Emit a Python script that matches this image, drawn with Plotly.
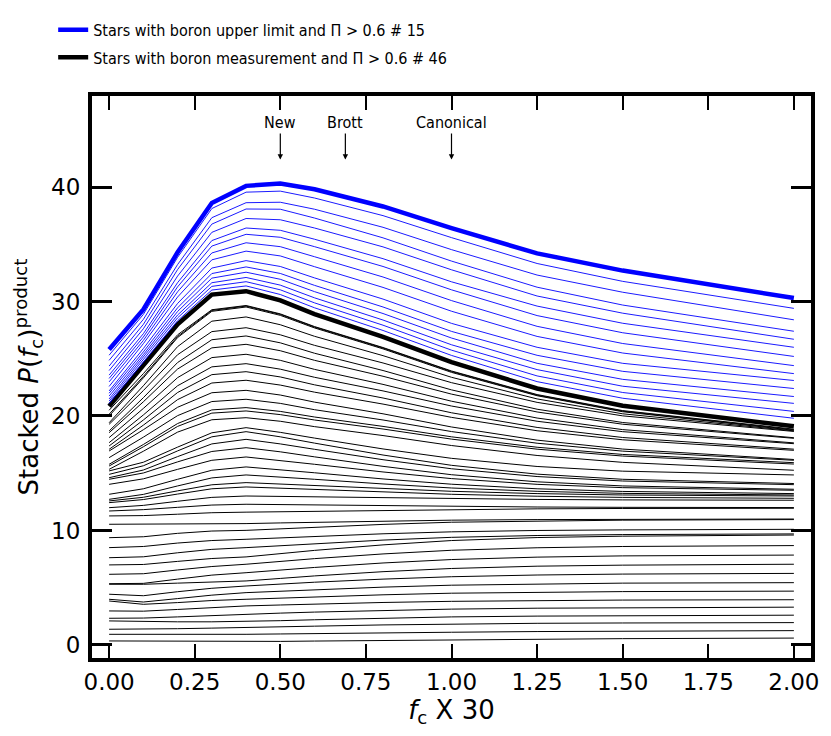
import plotly.graph_objects as go

# f_c X 30 grid
fc = [0.0, 0.1, 0.2, 0.3, 0.4, 0.5, 0.6, 0.8, 1.0, 1.25, 1.5, 2.0]

# stacked P(f_c)^product, stars with boron measurement (bottom -> top), last = total
black_levels = [
    [0.35, 0.33, 0.31, 0.30, 0.29, 0.31, 0.34, 0.40, 0.45, 0.51, 0.55, 0.60],
    [0.93, 0.92, 0.92, 0.93, 0.93, 0.96, 1.00, 1.06, 1.11, 1.17, 1.21, 1.25],
    [1.37, 1.38, 1.42, 1.47, 1.51, 1.57, 1.64, 1.75, 1.83, 1.89, 1.92, 1.95],
    [2.10, 2.05, 2.02, 2.02, 2.04, 2.12, 2.20, 2.34, 2.45, 2.52, 2.56, 2.60],
    [2.33, 2.35, 2.45, 2.58, 2.68, 2.78, 2.87, 3.02, 3.13, 3.21, 3.26, 3.30],
    [2.97, 2.95, 3.10, 3.28, 3.41, 3.49, 3.57, 3.71, 3.81, 3.88, 3.92, 3.95],
    [3.84, 3.55, 3.70, 3.88, 3.99, 4.10, 4.20, 4.38, 4.52, 4.62, 4.66, 4.70],
    [3.99, 3.75, 4.05, 4.35, 4.57, 4.70, 4.83, 5.05, 5.22, 5.34, 5.40, 5.44],
    [4.43, 4.30, 4.65, 4.95, 5.15, 5.32, 5.48, 5.75, 5.96, 6.11, 6.19, 6.25],
    [5.30, 5.30, 5.40, 5.50, 5.59, 5.81, 6.03, 6.40, 6.68, 6.88, 6.97, 7.05],
    [5.35, 5.38, 5.75, 6.10, 6.31, 6.54, 6.77, 7.16, 7.46, 7.67, 7.78, 7.85],
    [6.17, 6.22, 6.55, 6.85, 7.05, 7.30, 7.54, 7.95, 8.27, 8.49, 8.60, 8.68],
    [6.99, 7.03, 7.30, 7.55, 7.69, 7.98, 8.26, 8.74, 9.12, 9.38, 9.50, 9.60],
    [7.62, 7.70, 8.05, 8.35, 8.50, 8.68, 8.86, 9.16, 9.40, 9.56, 9.64, 9.70],
    [8.50, 8.60, 8.90, 9.12, 9.23, 9.36, 9.49, 9.71, 9.88, 10.00, 10.05, 10.10],
    [9.37, 9.45, 9.75, 9.95, 10.01, 10.15, 10.29, 10.53, 10.72, 10.84, 10.90, 10.95],
    [10.54, 10.55, 10.58, 10.60, 10.60, 10.66, 10.72, 10.82, 10.90, 10.95, 10.98, 11.00],
    [11.27, 11.30, 11.42, 11.55, 11.60, 11.64, 11.69, 11.77, 11.84, 11.89, 11.92, 11.94],
    [11.70, 11.82, 12.02, 12.22, 12.29, 12.26, 12.23, 12.16, 12.10, 12.05, 12.02, 12.00],
    [11.99, 12.19, 12.55, 12.89, 13.01, 12.97, 12.93, 12.84, 12.77, 12.71, 12.67, 12.64],
    [12.43, 12.70, 13.18, 13.64, 13.80, 13.70, 13.58, 13.35, 13.16, 12.99, 12.89, 12.81],
    [12.58, 12.90, 13.46, 13.99, 14.18, 14.06, 13.92, 13.65, 13.42, 13.22, 13.10, 13.01],
    [12.72, 13.15, 13.89, 14.59, 14.85, 14.68, 14.47, 14.06, 13.71, 13.42, 13.24, 13.10],
    [13.16, 13.64, 14.47, 15.26, 15.55, 15.32, 15.04, 14.50, 14.04, 13.64, 13.41, 13.22],
    [14.03, 14.51, 15.34, 16.13, 16.42, 16.13, 15.78, 15.11, 14.53, 14.03, 13.74, 13.51],
    [14.47, 15.02, 15.99, 16.90, 17.23, 16.87, 16.43, 15.60, 14.87, 14.25, 13.89, 13.60],
    [14.61, 15.28, 16.45, 17.56, 17.96, 17.56, 17.09, 16.18, 15.39, 14.71, 14.32, 14.00],
    [14.90, 15.65, 16.95, 18.18, 18.63, 18.18, 17.63, 16.59, 15.69, 14.92, 14.47, 14.10],
    [15.20, 15.96, 17.28, 18.53, 18.98, 18.57, 18.07, 17.12, 16.30, 15.59, 15.18, 14.85],
    [15.34, 16.92, 18.59, 19.67, 19.85, 19.54, 19.07, 18.29, 17.42, 16.55, 15.95, 15.26],
    [15.63, 17.31, 19.09, 20.25, 20.44, 20.12, 19.65, 18.86, 17.98, 17.10, 16.50, 15.80],
    [15.78, 17.51, 19.34, 20.53, 20.73, 20.40, 19.91, 19.09, 18.18, 17.27, 16.64, 15.92],
    [16.36, 18.15, 20.03, 21.26, 21.46, 21.10, 20.55, 19.65, 18.64, 17.62, 16.93, 16.13],
    [16.94, 18.80, 20.76, 22.03, 22.24, 21.83, 21.21, 20.19, 19.04, 17.89, 17.11, 16.20],
    [17.09, 19.20, 21.43, 22.88, 23.12, 22.70, 22.08, 21.04, 19.88, 18.71, 17.92, 17.00],
    [17.38, 19.65, 22.05, 23.61, 23.87, 23.41, 22.72, 21.57, 20.28, 19.00, 18.12, 17.10],
    [17.67, 20.09, 22.64, 24.29, 24.57, 24.09, 23.38, 22.19, 20.87, 19.54, 18.63, 17.58],
    [18.11, 20.66, 23.35, 25.10, 25.39, 24.86, 24.07, 22.76, 21.29, 19.82, 18.81, 17.65],
    [18.54, 21.24, 24.10, 25.95, 26.26, 25.70, 24.86, 23.47, 21.91, 20.35, 19.28, 18.05],
    [18.69, 21.60, 24.67, 26.66, 26.99, 26.39, 25.48, 23.97, 22.28, 20.59, 19.43, 18.10],
    [19.27, 22.22, 25.35, 27.37, 27.71, 27.09, 26.17, 24.63, 22.91, 21.19, 20.01, 18.65],
    [19.41, 22.64, 26.06, 28.28, 28.65, 27.97, 26.96, 25.27, 23.38, 21.49, 20.19, 18.70],
    [20.00, 23.33, 26.85, 29.14, 29.52, 28.79, 27.69, 25.86, 23.81, 21.77, 20.37, 18.75],
    [20.15, 23.46, 26.95, 29.22, 29.60, 28.87, 27.76, 25.93, 23.88, 21.82, 20.42, 18.80],
    [20.50, 23.70, 27.09, 29.28, 29.65, 28.92, 27.81, 25.98, 23.93, 21.87, 20.47, 18.85],
    [20.85, 24.50, 28.00, 30.60, 30.90, 30.10, 28.90, 26.90, 24.70, 22.40, 20.90, 19.10],
]

# stars with boron upper limit, stacked on top of the black total, last = grand total
blue_levels = [
    [21.10, 24.74, 28.32, 31.00, 31.36, 30.61, 29.45, 27.47, 25.29, 23.00, 21.55, 19.80],
    [21.30, 24.93, 28.57, 31.32, 31.73, 31.02, 29.88, 27.93, 25.75, 23.50, 22.05, 20.40],
    [21.49, 25.12, 28.82, 31.64, 32.10, 31.43, 30.32, 28.38, 26.22, 24.05, 22.60, 21.10],
    [21.74, 25.36, 29.13, 32.04, 32.56, 31.94, 30.86, 28.95, 26.81, 24.60, 23.20, 21.70],
    [21.99, 25.60, 29.45, 32.44, 33.02, 32.45, 31.41, 29.52, 27.39, 25.30, 23.90, 22.40],
    [22.19, 25.89, 29.83, 32.92, 33.57, 33.06, 32.06, 30.21, 28.09, 26.00, 24.60, 23.10],
    [22.58, 26.32, 30.39, 33.64, 34.40, 33.98, 33.04, 31.23, 29.15, 26.95, 25.50, 23.70],
    [22.98, 26.60, 30.85, 34.24, 35.13, 34.79, 33.91, 32.14, 30.08, 27.83, 26.33, 24.40],
    [23.28, 26.90, 31.28, 34.84, 35.87, 35.61, 34.79, 33.06, 31.02, 28.77, 27.27, 25.20],
    [23.57, 27.19, 31.65, 35.32, 36.42, 36.22, 35.44, 33.74, 31.72, 29.60, 28.10, 26.00],
    [23.97, 27.62, 32.22, 36.04, 37.25, 37.14, 36.42, 34.77, 32.77, 30.48, 28.98, 26.70],
    [24.36, 28.00, 32.79, 36.76, 38.08, 38.06, 37.29, 35.56, 33.53, 31.25, 29.69, 27.40],
    [24.86, 28.44, 33.23, 37.32, 38.63, 38.67, 38.06, 36.48, 34.53, 32.31, 30.81, 28.40],
    [25.31, 28.87, 33.86, 38.12, 39.55, 39.64, 39.04, 37.50, 35.58, 33.32, 31.76, 29.40],
    [25.80, 29.30, 34.30, 38.60, 40.10, 40.30, 39.80, 38.30, 36.40, 34.20, 32.70, 30.30],
]

legend_names = [
    "Stars with boron upper limit and \u03a0 > 0.6 # 15",
    "Stars with boron measurement and \u03a0 > 0.6 # 46",
]

# model markers on the f_c axis
model_names = ["New", "Brott", "Canonical"]
model_fc = [0.5, 0.69, 1.0]

narrow = "DejaVu Sans Condensed, Liberation Sans Narrow, sans-serif"

fig = go.Figure()

for i, lvl in enumerate(black_levels):
    top = i == len(black_levels) - 1
    fig.add_trace(go.Scatter(
        x=fc, y=lvl, mode="lines",
        line=dict(color="black", width=4.5 if top else 1),
        name=legend_names[1], showlegend=top, legend="legend2",
        hoverinfo="skip"))

for i, lvl in enumerate(blue_levels):
    top = i == len(blue_levels) - 1
    fig.add_trace(go.Scatter(
        x=fc, y=lvl, mode="lines",
        line=dict(color="#0000ff", width=4.5 if top else 0.9),
        name=legend_names[0], showlegend=top, legend="legend",
        hoverinfo="skip"))

for name, xv in zip(model_names, model_fc):
    fig.add_annotation(x=xv, y=42.4, text=name, showarrow=True,
                       ax=0, ay=-37, arrowhead=2, arrowsize=0.9,
                       arrowwidth=1.2, arrowcolor="black",
                       font=dict(family=narrow, size=16, color="black"))

fig.update_xaxes(
    range=[-0.05, 2.05], tickvals=[0, 0.25, 0.5, 0.75, 1.0, 1.25, 1.5, 1.75, 2.0],
    tickformat=".2f", ticks="inside", ticklen=14, tickwidth=1.5, tickcolor="black",
    showline=True, linewidth=4, linecolor="black", mirror="allticks",
    showgrid=False, zeroline=False,
    tickfont=dict(family="DejaVu Sans", size=23, color="black"),
    title=dict(text="<i>f</i><sub>c</sub> X 30", standoff=4,
               font=dict(family="DejaVu Sans", size=26, color="black")))

fig.update_yaxes(
    range=[-1.14, 47.95], tickvals=[0, 10, 20, 30, 40],
    ticks="inside", ticklen=20, tickwidth=3, tickcolor="black",
    showline=True, linewidth=4, linecolor="black", mirror="allticks",
    showgrid=False, zeroline=False, ticklabelstandoff=3,
    tickfont=dict(family="DejaVu Sans", size=23, color="black"),
    title=dict(text="Stacked <i>P</i>(<i>f</i><sub>c</sub>)<sup>product</sup>",
               standoff=6, font=dict(family="DejaVu Sans", size=26, color="black")))

legend_style = dict(xanchor="left", yanchor="top",
                    font=dict(family=narrow, size=16, color="black"),
                    bgcolor="rgba(0,0,0,0)", itemwidth=30)

fig.update_layout(
    width=831, height=736,
    margin=dict(l=84, r=28, t=88, b=86, autoexpand=False),
    plot_bgcolor="white", paper_bgcolor="white",
    legend=dict(x=-0.054, y=1.148, **legend_style),
    legend2=dict(x=-0.054, y=1.099, **legend_style),
)

fig.write_html("out.html")
